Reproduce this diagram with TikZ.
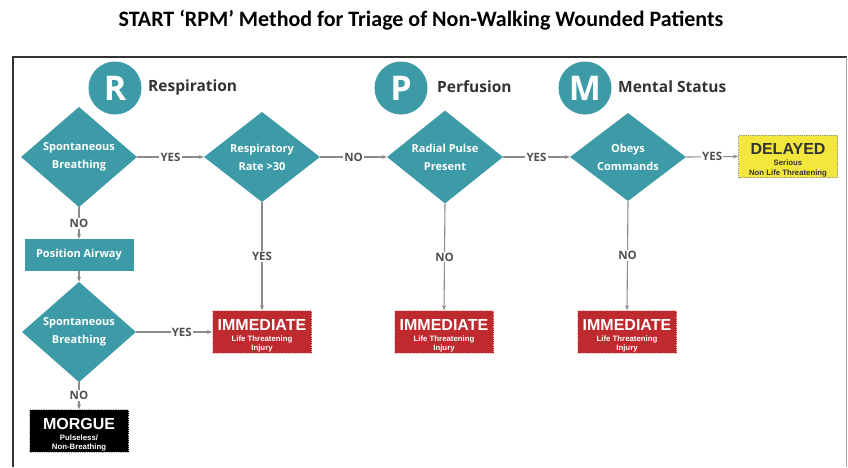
\documentclass[tikz,border=0pt]{standalone}
\usepackage{fontspec}
\setmainfont{Open Sans}
\newfontfamily\titlefont{Carlito}
\newfontfamily\boxfont{Liberation Sans}
\usetikzlibrary{shapes.geometric,arrows.meta}
\definecolor{teal1}{HTML}{3C9BA7}
\definecolor{redbox}{HTML}{BF2A2F}
\definecolor{yelbox}{HTML}{F3E63C}
\definecolor{linegray}{HTML}{8C8C8C}
\definecolor{labgray}{HTML}{4F4F4F}
\definecolor{headgray}{HTML}{333333}
\tikzset{
  dia/.style={diamond, fill=teal1, text=white, inner sep=0pt, minimum width=116pt, minimum height=77pt, align=center, font=\fontsize{11}{18}\selectfont\bfseries},
  pbox/.style={rectangle, fill=teal1, text=white, minimum width=109pt, minimum height=32pt, inner sep=0pt, font=\fontsize{11}{13}\selectfont\bfseries},
  letter/.style={circle, fill=teal1, text=white, minimum size=53pt, inner sep=0pt, font=\fontsize{34}{34}\selectfont\bfseries},
  head/.style={anchor=west, text=headgray, font=\fontsize{15.5}{17}\selectfont\bfseries, inner sep=0pt},
  tri/.style={rectangle, minimum width=99pt, minimum height=42pt, inner sep=0pt, draw, densely dotted, line width=0.8pt, font=\boxfont\bfseries\fontsize{7.8}{8.6}\selectfont},
  immbox/.style={tri, fill=redbox, draw=red!30!white, text=white},
  delbox/.style={tri, fill=yelbox, draw=gray!80, text=headgray},
  morbox/.style={tri, fill=black, draw=white!70!black, text=white},
  conn/.style={draw=linegray, line width=1.1pt, -{Stealth[length=5pt,width=4pt]}},
  lab/.style={fill=white, text=labgray, inner sep=1.2pt, font=\fontsize{11.5}{12}\selectfont\bfseries},
}
\newcommand{\triagetext}[3]{\begin{tabular}{@{}c@{}}\rule{0pt}{19.5pt}{\fontsize{16}{16}\selectfont #1}\\[2.5pt] #2\\[1pt] #3\end{tabular}}
\begin{document}
\begin{tikzpicture}[x=1pt,y=-1pt]
\useasboundingbox (0,0) rectangle (848,467);
\fill[white] (0,0) rectangle (848,467);
% title
\node (title) at (421,20) {\titlefont\fontsize{22}{24}\selectfont\bfseries START ‘RPM’ Method for Triage of Non-Walking Wounded Patients};
% frame
\draw[line width=1.6pt, draw=black!80] (13,467) -- (13,57) -- (847,57);
\draw[line width=0.8pt, draw=black!35] (846.5,57) -- (846.5,467);
% headings
\node[letter] (R) at (115,88) {R};
\node[head] (Rh) at (148,87) {Respiration};
\node[letter] (P) at (401,88) {P};
\node[head] (Ph) at (437,87) {Perfusion};
\node[letter] (M) at (585,88) {M};
\node[head] (Mh) at (618,87) {Mental Status};
% decisions
\node[dia] (d1) at (79,157) {Spontaneous\\Breathing};
\node[dia] (d2) at (262,157) {Respiratory\\Rate >30};
\node[dia] (d3) at (445,157) {Radial Pulse\\Present};
\node[dia] (d4) at (628,157) {Obeys\\Commands};
\node[pbox] (pa) at (79,255) {Position Airway};
\node[dia, minimum width=114pt, minimum height=76pt] (d5) at (79,332) {Spontaneous\\Breathing};
% outcomes
\node[delbox] (del) at (788,156.5) {\triagetext{DELAYED}{Serious}{Non Life Threatening}};
\node[immbox] (i1) at (262,332) {\triagetext{IMMEDIATE}{Life Threatening}{Injury}};
\node[immbox] (i2) at (444,332) {\triagetext{IMMEDIATE}{Life Threatening}{Injury}};
\node[immbox] (i3) at (627,332) {\triagetext{IMMEDIATE}{Life Threatening}{Injury}};
\node[morbox] (mo) at (79,431) {\triagetext{MORGUE}{Pulseless/}{Non-Breathing}};
% connectors
\draw[conn] (d1.east) -- node[lab] {YES} (d2.west);
\draw[conn] (d2.east) -- node[lab] {NO} (d3.west);
\draw[conn] (d3.east) -- node[lab] {YES} (d4.west);
\draw[conn] (d4.east) -- node[lab] {YES} (del.west);
\draw[conn] (d1.south) -- node[lab] {NO} (pa.north);
\draw[conn] (pa.south) -- (d5.north);
\draw[conn] (d5.south) -- node[lab] {NO} (mo.north);
\draw[conn] (d5.east) -- node[lab, pos=0.6] {YES} (i1.west);
\draw[conn] (d2.south) -- node[lab, pos=0.5] {YES} (i1.north);
\draw[conn] (d3.south) -- node[lab, pos=0.5] {NO} (i2.north);
\draw[conn] (d4.south) -- node[lab, pos=0.5] {NO} (i3.north);
\end{tikzpicture}
\end{document}
